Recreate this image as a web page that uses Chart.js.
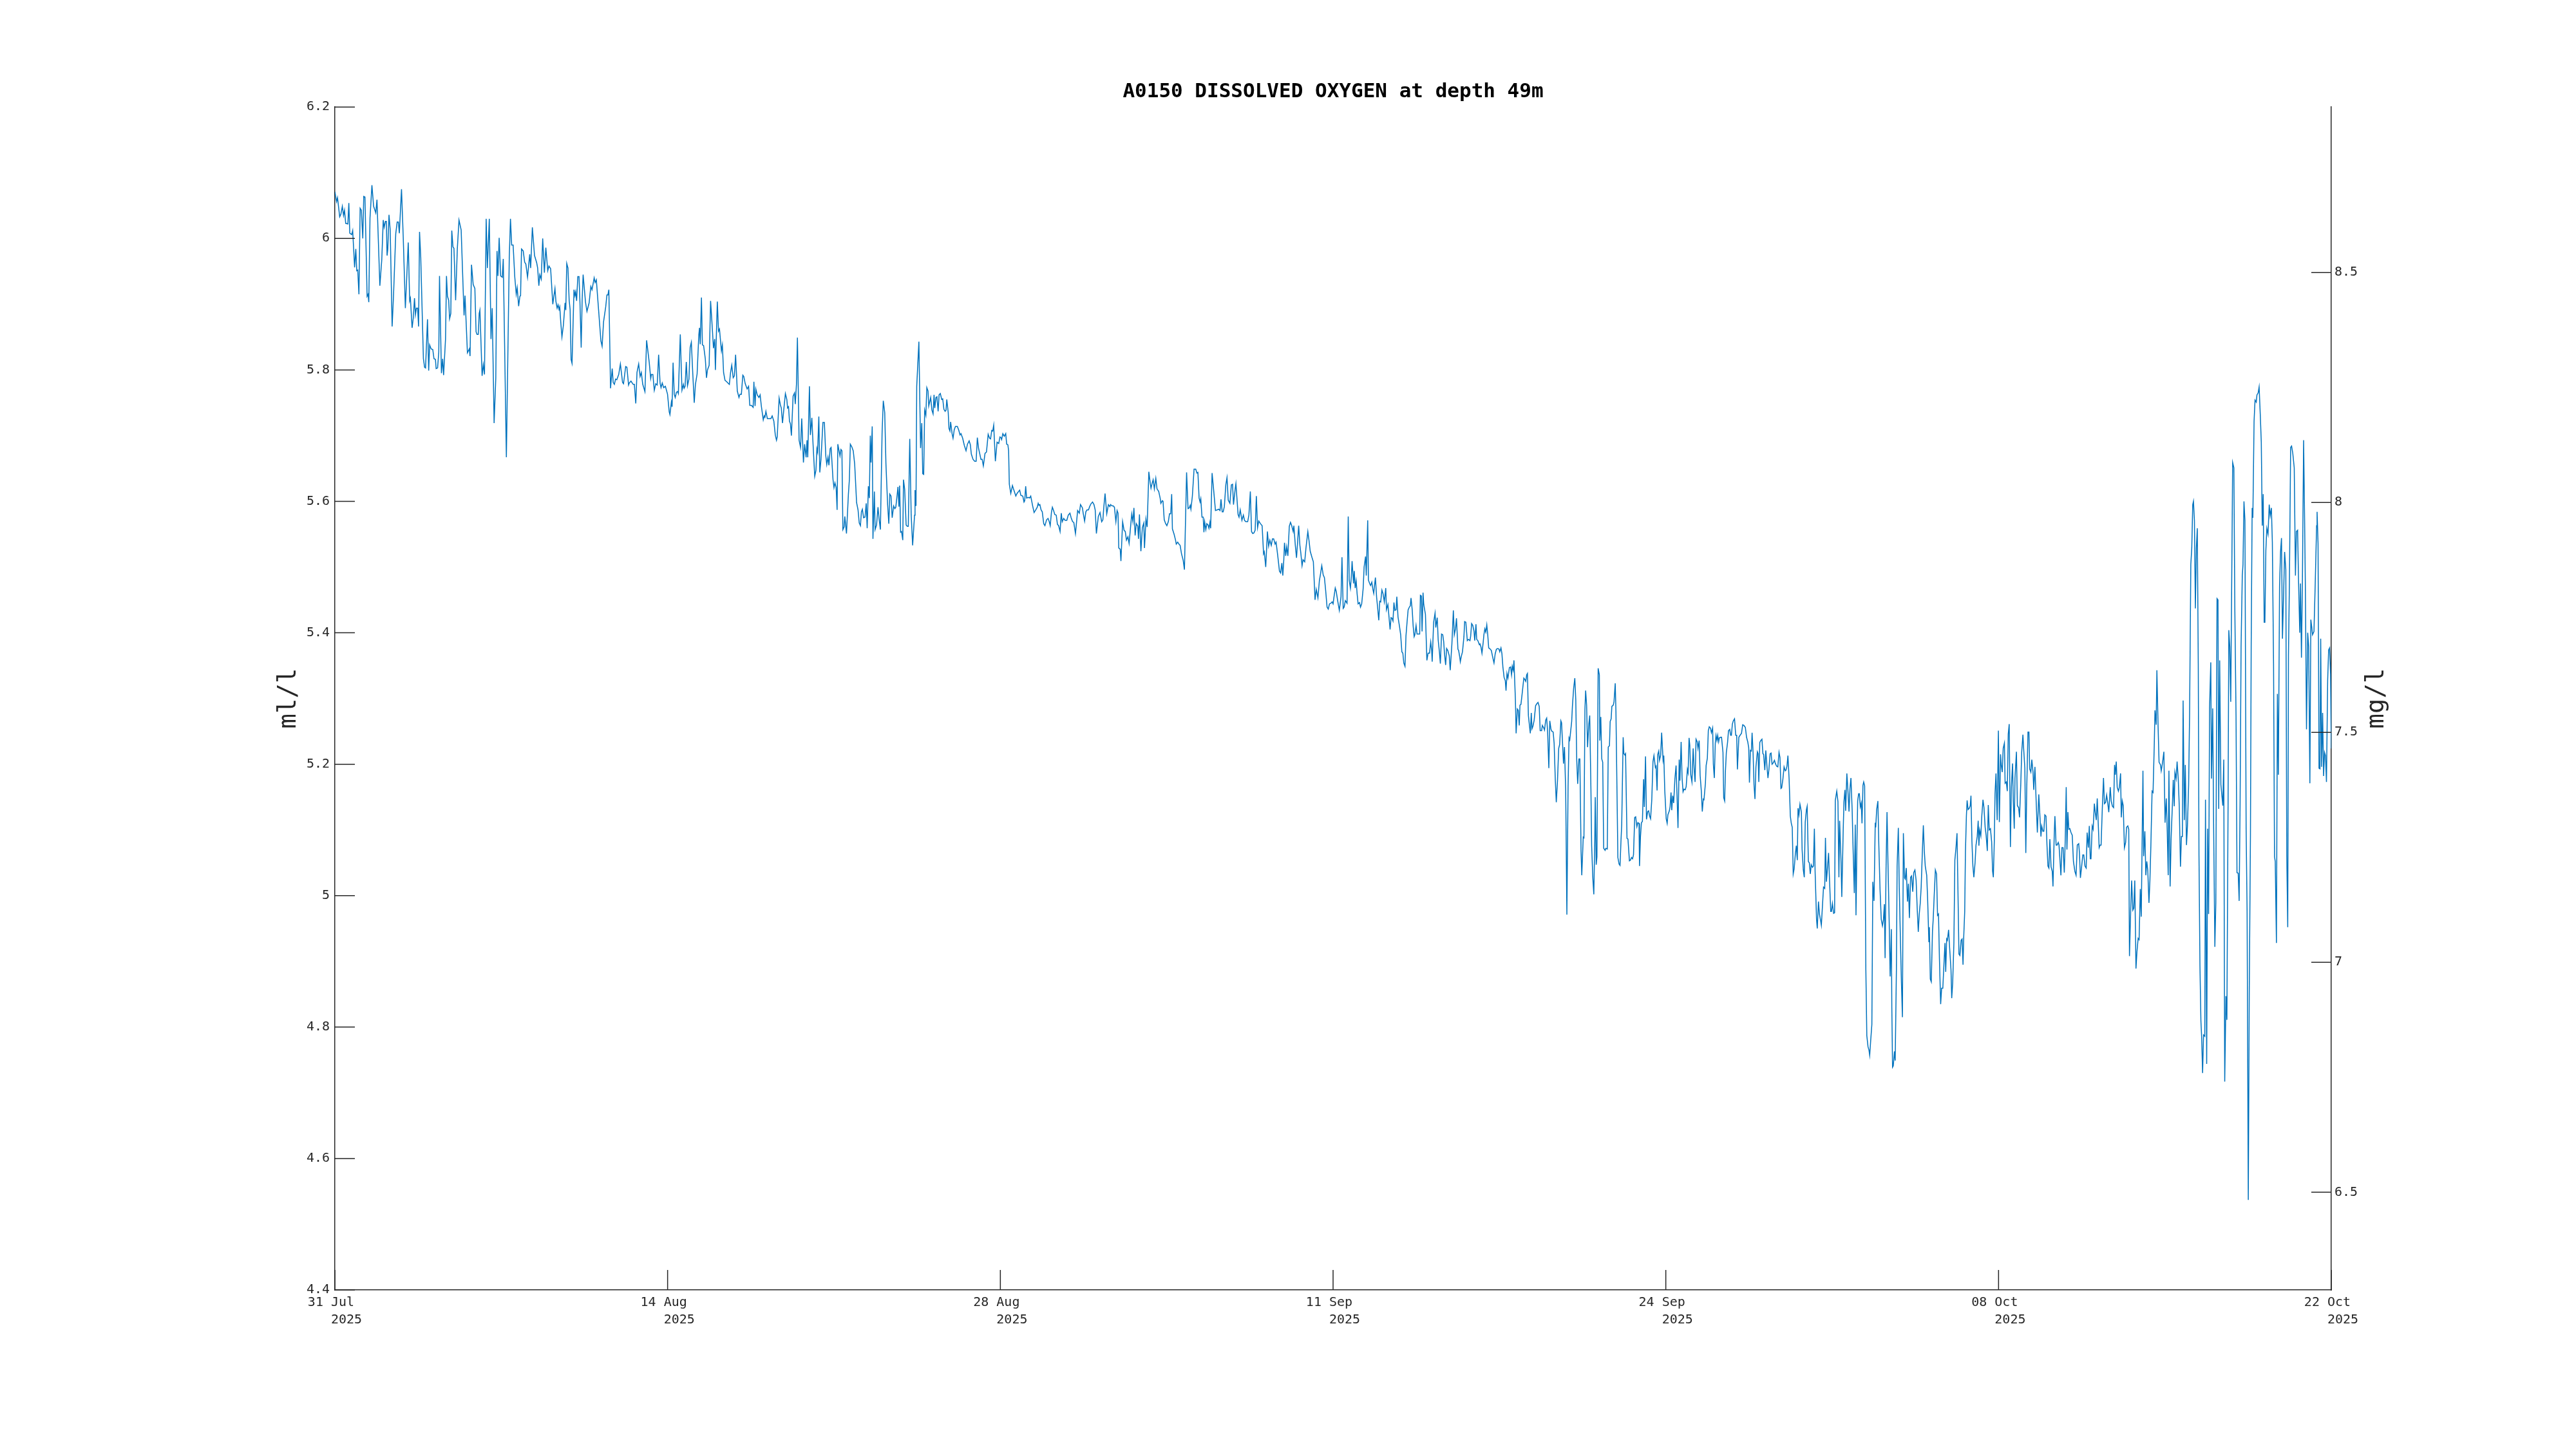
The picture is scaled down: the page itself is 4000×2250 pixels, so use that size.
<!DOCTYPE html>
<html>
<head>
<meta charset="utf-8">
<title>A0150 DISSOLVED OXYGEN at depth 49m</title>
<script src="https://cdn.jsdelivr.net/npm/chart.js@4.4.1/dist/chart.umd.min.js"></script>
<style>
  html, body { margin: 0; padding: 0; background: #fff; }
</style>
</head>
<body>
<canvas id="doChart" width="4000" height="2250"></canvas>
<script>
// days since 31 Jul 2025 00:00
const sampleDays = [
  // 31 Jul - 13 Aug
  0, 0.07, 0.11, 0.20, 0.25, 0.31, 0.36, 0.40, 0.45, 0.54,
  0.58, 0.62, 0.70, 0.74, 0.82, 0.87, 0.91, 0.95, 1.00, 1.05,
  1.10, 1.16, 1.20, 1.25, 1.34, 1.38, 1.41, 1.46, 1.54, 1.61,
  1.70, 1.75, 1.87, 1.95, 2.01, 2.05, 2.10, 2.14, 2.17, 2.20,
  2.25, 2.30, 2.38, 2.44, 2.53, 2.59, 2.64, 2.68, 2.77, 2.84,
  2.93, 3.02, 3.05, 3.11, 3.14, 3.21, 3.26, 3.31, 3.35, 3.39,
  3.44, 3.48, 3.52, 3.57, 3.68, 3.73, 3.77, 3.85, 3.90, 3.94,
  4.00, 4.07, 4.12, 4.18, 4.21, 4.27, 4.32, 4.35, 4.43, 4.48,
  4.52, 4.60, 4.64, 4.68, 4.73, 4.77, 4.82, 4.86, 4.91, 4.95,
  5.02, 5.09, 5.16, 5.25, 5.37, 5.41, 5.51, 5.55, 5.59, 5.62,
  5.68, 5.75, 5.82, 5.87, 5.91, 5.96, 6.00, 6.03, 6.12, 6.17,
  6.22, 6.29, 6.34, 6.42, 6.49, 6.54, 6.62, 6.69, 6.74, 6.78,
  6.83, 6.89, 6.96, 7.00, 7.13, 7.25, 7.30, 7.35, 7.41, 7.48,
  7.54, 7.58, 7.64, 7.69, 7.72, 7.76, 7.83, 7.89, 7.94, 8.01,
  8.08, 8.10, 8.14, 8.21, 8.30, 8.39, 8.43, 8.48, 8.52, 8.58,
  8.64, 8.71, 8.77, 8.85, 8.90, 8.97, 9.06, 9.15, 9.19, 9.24,
  9.28, 9.32, 9.35, 9.39, 9.44, 9.50, 9.57, 9.60, 9.64, 9.69,
  9.74, 9.78, 9.82, 9.86, 9.94, 9.98, 10.01, 10.05, 10.10, 10.15,
  10.19, 10.24, 10.28, 10.32, 10.42, 10.48, 10.57, 10.64, 10.69, 10.78,
  10.82, 10.87, 11.06, 11.11, 11.17, 11.26, 11.31, 11.35, 11.39, 11.46,
  11.53, 11.57, 11.62, 11.67, 11.72, 11.80, 11.87, 11.96, 12.00, 12.09,
  12.14, 12.21, 12.24, 12.31, 12.40, 12.45, 12.51, 12.56, 12.63, 12.69,
  12.74, 12.80, 12.89, 12.96, 13.07, 13.13, 13.16, 13.22, 13.28, 13.34,
  13.40, 13.46, 13.52, 13.56, 13.61, 13.67, 13.74, 13.83, 13.90,
  // 13 Aug - 27 Aug
  13.93, 13.99, 14.02, 14.06, 14.11, 14.15, 14.20, 14.25, 14.28, 14.36,
  14.43, 14.49, 14.52, 14.56, 14.61, 14.66, 14.72, 14.77, 14.82, 14.88,
  14.94, 14.99, 15.06, 15.13, 15.16, 15.19, 15.24, 15.28, 15.33, 15.40,
  15.45, 15.49, 15.56, 15.62, 15.67, 15.74, 15.79, 15.82, 15.90, 15.95,
  15.99, 16.07, 16.11, 16.16, 16.22, 16.29, 16.34, 16.40, 16.45, 16.50,
  16.56, 16.61, 16.66, 16.73, 16.80, 16.84, 16.90, 16.96, 17.00, 17.06,
  17.14, 17.20, 17.25, 17.32, 17.39, 17.42, 17.47, 17.50, 17.56, 17.63,
  17.68, 17.73, 17.81, 17.85, 17.88, 17.92, 17.98, 18.06, 18.13, 18.18,
  18.25, 18.31, 18.36, 18.39, 18.47, 18.52, 18.56, 18.61, 18.67, 18.73,
  18.79, 18.82, 18.86, 18.90, 18.94, 18.98, 19.05, 19.11, 19.14, 19.19,
  19.23, 19.30, 19.36, 19.41, 19.48, 19.53, 19.59, 19.63, 19.66, 19.73,
  19.77, 19.83, 19.88, 19.95, 20.00, 20.04, 20.07, 20.12, 20.16, 20.21,
  20.29, 20.35, 20.41, 20.45, 20.50, 20.54, 20.59, 20.63, 20.71, 20.75,
  20.79, 20.84, 20.88, 20.91, 20.96, 21.00, 21.04, 21.08, 21.12, 21.17,
  21.20, 21.27, 21.35, 21.39, 21.43, 21.49, 21.55, 21.61, 21.69, 21.75,
  21.80, 21.85, 21.89, 21.93, 21.98, 22.04, 22.09, 22.13, 22.18, 22.22,
  22.26, 22.29, 22.34, 22.37, 22.43, 22.46, 22.52, 22.58, 22.62, 22.68,
  22.75, 22.80, 22.86, 22.91, 22.98, 23.03, 23.07, 23.12, 23.17, 23.23,
  23.28, 23.32, 23.38, 23.41, 23.45, 23.48, 23.52, 23.56, 23.61, 23.64,
  23.69, 23.75, 23.80, 23.84, 23.90, 23.96, 24.02, 24.10, 24.12, 24.16,
  24.19, 24.28, 24.35, 24.40, 24.44, 24.48, 24.52, 24.57, 24.61, 24.66,
  24.69, 24.77, 24.82, 24.87, 24.91, 24.94, 24.99, 25.03, 25.08, 25.12,
  25.17, 25.23, 25.27, 25.32, 25.37, 25.41, 25.44, 25.50, 25.53, 25.57,
  25.60, 25.66, 25.70, 25.75, 25.80, 25.88, 25.94, 25.99, 26.03, 26.10,
  26.17, 26.24, 26.30, 26.37, 26.42, 26.46, 26.53, 26.60, 26.66, 26.71,
  26.76, 26.86, 26.91, 26.96, 27.03, 27.09, 27.16, 27.22, 27.26, 27.31,
  27.35, 27.39, 27.46, 27.53, 27.60, 27.65, 27.69,
  // 27 Aug - 10 Sep
  27.72, 27.77, 27.83, 27.89, 27.93, 27.98, 28.01, 28.04, 28.10, 28.17,
  28.22, 28.31, 28.36, 28.47, 28.52, 28.60, 28.65, 28.68, 28.72, 28.76,
  28.83, 28.88, 28.93, 29.01, 29.07, 29.14, 29.20, 29.24, 29.27, 29.31,
  29.36, 29.41, 29.47, 29.52, 29.59, 29.65, 29.70, 29.74, 29.79, 29.83,
  29.88, 29.93, 29.99, 30.04, 30.09, 30.15, 30.20, 30.24, 30.30, 30.36,
  30.43, 30.49, 30.56, 30.61, 30.67, 30.72, 30.79, 30.88, 30.95, 31.00,
  31.08, 31.11, 31.17, 31.22, 31.27, 31.33, 31.38, 31.43, 31.50, 31.56,
  31.61, 31.66, 31.74, 31.81, 31.88, 31.93, 31.97, 32.02, 32.09, 32.16,
  32.22, 32.25, 32.31, 32.36, 32.41, 32.47, 32.52, 32.56, 32.59, 32.65,
  32.68, 32.75, 32.81, 32.86, 32.91, 32.97, 33.02, 33.07, 33.13, 33.18,
  33.22, 33.27, 33.32, 33.38, 33.41, 33.45, 33.51, 33.57, 33.63, 33.66,
  33.72, 33.77, 33.84, 33.90, 33.93, 33.98, 34.02, 34.07, 34.13, 34.18,
  34.25, 34.31, 34.34, 34.40, 34.43, 34.48, 34.54, 34.59, 34.65, 34.70,
  34.75, 34.79, 34.82, 34.89, 34.95, 34.98, 35.04, 35.09, 35.14, 35.20,
  35.27, 35.32, 35.41, 35.47, 35.52, 35.56, 35.59, 35.65, 35.72, 35.79,
  35.84, 35.88, 35.93, 35.97, 36.00, 36.05, 36.10, 36.13, 36.16, 36.21,
  36.25, 36.30, 36.34, 36.38, 36.41, 36.47, 36.54, 36.61, 36.68, 36.75,
  36.80, 36.84, 36.89, 36.93, 36.98, 37.04, 37.09, 37.14, 37.21, 37.27,
  37.32, 37.36, 37.43, 37.46, 37.55, 37.59, 37.64, 37.71, 37.77, 37.82,
  37.87, 37.95, 38.00, 38.06, 38.11, 38.16, 38.21, 38.26, 38.31, 38.36,
  38.41, 38.48, 38.55, 38.61, 38.64, 38.70, 38.77, 38.82, 38.87, 38.93,
  38.98, 39.03, 39.09, 39.13, 39.20, 39.27, 39.32, 39.37, 39.41, 39.45,
  39.48, 39.53, 39.57, 39.62, 39.68, 39.73, 39.78, 39.84, 39.87, 39.93,
  39.98, 40.03, 40.07, 40.12, 40.16, 40.21, 40.25, 40.32, 40.37, 40.45,
  40.50, 40.55, 40.62, 40.68, 40.75, 40.80, 40.87, 40.93, 40.98, 41.03,
  41.09, 41.14, 41.19, 41.25, 41.30, 41.35, 41.41, 41.46, 41.50,
  // 10 Sep - 24 Sep
  41.54, 41.59, 41.63, 41.69, 41.76, 41.83, 41.87, 41.92, 41.96, 42.01,
  42.08, 42.13, 42.17, 42.22, 42.26, 42.29, 42.35, 42.38, 42.42, 42.46,
  42.50, 42.54, 42.60, 42.64, 42.69, 42.75, 42.79, 42.85, 42.88, 42.94,
  42.97, 43.03, 43.06, 43.11, 43.15, 43.19, 43.22, 43.26, 43.31, 43.35,
  43.40, 43.44, 43.48, 43.53, 43.58, 43.63, 43.69, 43.72, 43.78, 43.83,
  43.87, 43.91, 43.95, 43.99, 44.03, 44.07, 44.12, 44.15, 44.20, 44.26,
  44.31, 44.36, 44.40, 44.44, 44.49, 44.53, 44.58, 44.62, 44.67, 44.71,
  44.74, 44.79, 44.83, 44.87, 44.90, 44.95, 44.99, 45.04, 45.10, 45.13,
  45.17, 45.20, 45.24, 45.27, 45.34, 45.40, 45.45, 45.51, 45.56, 45.60,
  45.62, 45.68, 45.74, 45.77, 45.83, 45.87, 45.92, 45.96, 46.01, 46.06,
  46.10, 46.13, 46.18, 46.22, 46.27, 46.33, 46.37, 46.44, 46.50, 46.54,
  46.59, 46.63, 46.69, 46.72, 46.77, 46.79, 46.83, 46.88, 46.94, 46.97,
  47.02, 47.08, 47.13, 47.19, 47.22, 47.26, 47.31, 47.36, 47.39, 47.44,
  47.47, 47.52, 47.58, 47.61, 47.65, 47.69, 47.74, 47.77, 47.81, 47.85,
  47.89, 47.93, 47.97, 48.01, 48.08, 48.13, 48.19, 48.24, 48.29, 48.35,
  48.40, 48.43, 48.48, 48.52, 48.56, 48.61, 48.66, 48.69, 48.73, 48.77,
  48.83, 48.88, 48.92, 48.95, 48.99, 49.02, 49.08, 49.11, 49.16, 49.20,
  49.24, 49.27, 49.31, 49.36, 49.43, 49.47, 49.51, 49.55, 49.58, 49.62,
  49.67, 49.70, 49.74, 49.77, 49.81, 49.86, 49.92, 49.97, 50.02, 50.07,
  50.11, 50.17, 50.20, 50.26, 50.29, 50.34, 50.38, 50.42, 50.47, 50.51,
  50.56, 50.60, 50.65, 50.69, 50.74, 50.78, 50.83, 50.88, 50.92, 50.97,
  51.00, 51.08, 51.12, 51.17, 51.22, 51.27, 51.31, 51.34, 51.42, 51.45,
  51.50, 51.55, 51.59, 51.63, 51.67, 51.72, 51.76, 51.81, 51.84, 51.90,
  51.93, 51.97, 52.00, 52.04, 52.08, 52.13, 52.17, 52.22, 52.25, 52.30,
  52.34, 52.38, 52.40, 52.44, 52.47, 52.52, 52.57, 52.59, 52.63, 52.67,
  52.71, 52.75, 52.81, 52.84, 52.90, 52.94, 52.99, 53.02, 53.06, 53.09,
  53.15, 53.18, 53.23, 53.26, 53.34, 53.39, 53.43, 53.47, 53.50, 53.56,
  53.59, 53.63, 53.66, 53.72, 53.76, 53.82, 53.86, 53.91, 53.95, 53.99,
  54.04, 54.08, 54.13, 54.17, 54.22, 54.24, 54.28, 54.32, 54.36, 54.41,
  54.44, 54.49, 54.53, 54.58, 54.62, 54.66, 54.70, 54.75, 54.80, 54.84,
  54.90, 54.93, 54.97, 55.00, 55.04, 55.07, 55.12, 55.16, 55.22, 55.25,
  55.29,
  // 24 Sep - 8 Oct
  55.35, 55.39, 55.42, 55.48, 55.51, 55.55, 55.58, 55.62, 55.66, 55.71,
  55.76, 55.80, 55.84, 55.89, 55.92, 55.97, 56.01, 56.05, 56.09, 56.14,
  56.18, 56.23, 56.26, 56.30, 56.33, 56.37, 56.42, 56.47, 56.51, 56.55,
  56.59, 56.64, 56.67, 56.72, 56.76, 56.81, 56.85, 56.89, 56.92, 56.98,
  57.01, 57.06, 57.10, 57.14, 57.19, 57.23, 57.28, 57.31, 57.35, 57.39,
  57.42, 57.46, 57.49, 57.53, 57.56, 57.61, 57.65, 57.71, 57.74, 57.78,
  57.81, 57.85, 57.90, 57.94, 57.99, 58.03, 58.06, 58.10, 58.14, 58.19,
  58.24, 58.28, 58.31, 58.37, 58.42, 58.48, 58.53, 58.58, 58.64, 58.69,
  58.74, 58.78, 58.81, 58.85, 58.89, 58.92, 58.96, 59.00, 59.04, 59.08,
  59.14, 59.17, 59.20, 59.24, 59.28, 59.33, 59.37, 59.40, 59.45, 59.49,
  59.54, 59.58, 59.62, 59.67, 59.71, 59.75, 59.80, 59.85, 59.89, 59.94,
  59.99, 60.04, 60.08, 60.12, 60.15, 60.20, 60.25, 60.30, 60.33, 60.37,
  60.41, 60.46, 60.51, 60.55, 60.59, 60.63, 60.67, 60.72, 60.76, 60.80,
  60.83, 60.87, 60.91, 60.97, 61.00, 61.05, 61.09, 61.13, 61.18, 61.21,
  61.26, 61.30, 61.34, 61.38, 61.43, 61.47, 61.51, 61.54, 61.60, 61.63,
  61.68, 61.72, 61.77, 61.80, 61.85, 61.89, 61.94, 61.97, 62.01, 62.04,
  62.10, 62.13, 62.19, 62.22, 62.26, 62.31, 62.35, 62.38, 62.44, 62.49,
  62.53, 62.56, 62.62, 62.65, 62.71, 62.74, 62.78, 62.81, 62.86, 62.90,
  62.95, 62.99, 63.03, 63.08, 63.12, 63.17, 63.21, 63.24, 63.28, 63.31,
  63.35, 63.38, 63.42, 63.46, 63.49, 63.53, 63.56, 63.60, 63.65, 63.69,
  63.74, 63.78, 63.81, 63.85, 63.90, 63.94, 63.99, 64.04, 64.06, 64.10,
  64.15, 64.19, 64.24, 64.29, 64.34, 64.38, 64.42, 64.45, 64.49, 64.53,
  64.57, 64.62, 64.66, 64.71, 64.73, 64.76, 64.79, 64.84, 64.87, 64.92,
  64.95, 65.00, 65.04, 65.09, 65.13, 65.17, 65.21, 65.26, 65.29, 65.33,
  65.38, 65.42, 65.46, 65.51, 65.55, 65.60, 65.64, 65.69, 65.74, 65.79,
  65.83, 65.87, 65.91, 65.95, 66.00, 66.04, 66.08, 66.12, 66.18, 66.22,
  66.27, 66.29, 66.33, 66.37, 66.42, 66.45, 66.49, 66.54, 66.59, 66.63,
  66.67, 66.71, 66.76, 66.80, 66.85, 66.89, 66.94, 66.97, 67.01, 67.04,
  67.09, 67.13, 67.19, 67.22, 67.26, 67.31, 67.35, 67.40, 67.44, 67.47,
  67.52, 67.56, 67.61, 67.65, 67.69, 67.72, 67.76, 67.79, 67.83, 67.86,
  67.90, 67.95, 67.99, 68.02, 68.06, 68.10, 68.14, 68.19, 68.23, 68.28,
  68.32, 68.35, 68.38, 68.43, 68.47, 68.52, 68.56, 68.61, 68.65, 68.70,
  68.74, 68.78, 68.83, 68.88, 68.92, 68.95, 68.99, 69.02, 69.06,
  // 8 Oct - 22 Oct
  69.11, 69.16, 69.20, 69.25, 69.28, 69.32, 69.36, 69.41, 69.44, 69.49,
  69.53, 69.57, 69.61, 69.66, 69.70, 69.75, 69.78, 69.82, 69.85, 69.91,
  69.95, 70.00, 70.04, 70.09, 70.13, 70.18, 70.21, 70.26, 70.30, 70.34,
  70.39, 70.43, 70.46, 70.51, 70.55, 70.60, 70.63, 70.68, 70.73, 70.78,
  70.84, 70.89, 70.93, 70.96, 71.01, 71.05, 71.09, 71.14, 71.18, 71.22,
  71.26, 71.30, 71.35, 71.40, 71.43, 71.48, 71.51, 71.56, 71.60, 71.65,
  71.68, 71.73, 71.76, 71.80, 71.85, 71.90, 71.94, 71.98, 72.01, 72.05,
  72.09, 72.13, 72.18, 72.23, 72.28, 72.34, 72.39, 72.44, 72.50, 72.53,
  72.57, 72.62, 72.67, 72.71, 72.76, 72.81, 72.85, 72.90, 72.94, 72.98,
  73.01, 73.06, 73.10, 73.15, 73.19, 73.23, 73.27, 73.32, 73.35, 73.39,
  73.43, 73.48, 73.53, 73.57, 73.62, 73.66, 73.71, 73.75,
  73.81, 73.85, 73.90, 73.95, 73.99, 74.02, 74.06, 74.10, 74.15, 74.19,
  74.24, 74.27, 74.31, 74.35, 74.40, 74.45, 74.49, 74.54, 74.58, 74.61,
  74.66, 74.70, 74.75, 74.79, 74.83, 74.88, 74.92, 74.97, 75.01, 75.06,
  75.10, 75.17, 75.20, 75.25, 75.29, 75.33, 75.37, 75.42, 75.46, 75.50,
  75.55, 75.59, 75.64, 75.67, 75.72, 75.75, 75.80, 75.84, 75.90, 75.93,
  75.97, 76.00, 76.04, 76.09, 76.14, 76.18, 76.22, 76.25, 76.30, 76.34,
  76.40, 76.43, 76.47, 76.50, 76.55, 76.59, 76.64, 76.68, 76.73, 76.77,
  76.81, 76.84, 76.89, 76.93, 76.98, 77.02, 77.07, 77.11, 77.16, 77.20,
  77.24, 77.27, 77.31, 77.35, 77.39, 77.43, 77.47, 77.50, 77.54, 77.58,
  77.61, 77.65, 77.69, 77.74, 77.77, 77.82, 77.86, 77.90, 77.94, 77.99,
  78.02, 78.07, 78.11, 78.16, 78.20, 78.25, 78.29, 78.32, 78.36, 78.41,
  78.45,
  78.49, 78.53, 78.57, 78.62, 78.66, 78.71, 78.74, 78.78, 78.82, 78.87,
  78.90, 78.95, 78.99, 79.04, 79.08, 79.13, 79.17, 79.21, 79.25, 79.30,
  79.33, 79.37, 79.41, 79.46, 79.50, 79.55, 79.59, 79.64, 79.67, 79.71,
  79.74, 79.79, 79.83, 79.88, 79.91, 79.96, 80.00, 80.05, 80.09, 80.13,
  80.17, 80.21, 80.24, 80.28, 80.32, 80.37, 80.42, 80.46, 80.51, 80.55,
  80.60, 80.64, 80.67, 80.72, 80.76, 80.80, 80.85, 80.89, 80.93, 80.97,
  81.02, 81.06, 81.11, 81.15, 81.19, 81.22, 81.26, 81.31, 81.35, 81.40,
  81.46, 81.51, 81.55, 81.60, 81.64, 81.69, 81.72, 81.76, 81.80, 81.85,
  81.89, 81.92, 81.97, 82.02, 82.06, 82.11, 82.15, 82.19, 82.22, 82.28,
  82.33, 82.39, 82.41, 82.45, 82.49, 82.53, 82.56, 82.60, 82.64, 82.68,
  82.72, 82.76, 82.80, 82.85, 82.89, 82.93, 82.97, 83.00
];

// dissolved oxygen, ml/l
const oxygenMlL = [
  // 31 Jul - 13 Aug
  6.071, 6.056, 6.062, 6.033, 6.037, 6.049, 6.035, 6.043, 6.023, 6.022,
  6.054, 6.008, 6.006, 6.012, 5.956, 5.984, 5.951, 5.952, 5.915, 6.046,
  6.043, 6.000, 6.064, 6.063, 5.912, 5.915, 5.903, 6.031, 6.081, 6.049,
  6.039, 6.059, 5.928, 5.968, 6.028, 6.017, 6.026, 6.026, 5.974, 5.984,
  6.036, 6.013, 5.866, 5.915, 6.007, 6.025, 6.025, 6.008, 6.075, 6.004,
  5.894, 5.968, 5.994, 5.905, 5.909, 5.864, 5.879, 5.909, 5.884, 5.894,
  5.894, 5.866, 6.010, 5.971, 5.817, 5.804, 5.803, 5.877, 5.799, 5.838,
  5.832, 5.831, 5.817, 5.816, 5.802, 5.803, 5.827, 5.943, 5.795, 5.817,
  5.792, 5.847, 5.943, 5.912, 5.906, 5.878, 5.886, 6.012, 5.987, 5.985,
  5.906, 5.984, 6.028, 6.013, 5.883, 5.913, 5.826, 5.829, 5.832, 5.821,
  5.960, 5.930, 5.924, 5.858, 5.854, 5.854, 5.886, 5.891, 5.791, 5.808,
  5.793, 6.030, 5.955, 6.030, 5.847, 5.894, 5.719, 5.788, 5.981, 5.943,
  6.001, 5.943, 5.941, 5.969, 5.667, 5.971, 6.030, 5.990, 5.990, 5.941,
  5.915, 5.925, 5.897, 5.912, 5.913, 5.984, 5.981, 5.964, 5.961, 5.941,
  5.968, 5.976, 5.955, 6.017, 5.974, 5.963, 5.955, 5.928, 5.945, 5.938,
  6.000, 5.948, 5.986, 5.951, 5.958, 5.954, 5.900, 5.924, 5.904, 5.894,
  5.899, 5.892, 5.896, 5.873, 5.850, 5.868, 5.902, 5.891, 5.962, 5.955,
  5.906, 5.892, 5.816, 5.810, 5.922, 5.913, 5.919, 5.905, 5.942, 5.942,
  5.902, 5.834, 5.906, 5.945, 5.903, 5.889, 5.902, 5.927, 5.922, 5.940,
  5.933, 5.937, 5.844, 5.836, 5.873, 5.896, 5.914, 5.914, 5.922, 5.772,
  5.802, 5.781, 5.778, 5.786, 5.785, 5.793, 5.809, 5.781, 5.779, 5.805,
  5.804, 5.777, 5.780, 5.783, 5.778, 5.778, 5.749, 5.796, 5.809, 5.790,
  5.796, 5.778, 5.767, 5.845, 5.811, 5.787, 5.793, 5.793, 5.769, 5.779,
  5.777, 5.823, 5.780, 5.773, 5.780, 5.773, 5.775, 5.763, 5.736,
  // 13 Aug - 27 Aug
  5.732, 5.751, 5.744, 5.811, 5.763, 5.758, 5.766, 5.767, 5.764, 5.854,
  5.769, 5.778, 5.772, 5.775, 5.812, 5.776, 5.786, 5.834, 5.842, 5.794,
  5.750, 5.778, 5.794, 5.853, 5.864, 5.839, 5.910, 5.838, 5.837, 5.817,
  5.788, 5.800, 5.807, 5.905, 5.876, 5.833, 5.847, 5.800, 5.904, 5.859,
  5.862, 5.829, 5.838, 5.796, 5.784, 5.782, 5.780, 5.778, 5.796, 5.807,
  5.788, 5.791, 5.823, 5.768, 5.758, 5.763, 5.763, 5.792, 5.790, 5.779,
  5.771, 5.775, 5.746, 5.746, 5.743, 5.782, 5.745, 5.771, 5.762, 5.758,
  5.762, 5.745, 5.724, 5.730, 5.728, 5.737, 5.726, 5.726, 5.726, 5.730,
  5.722, 5.701, 5.693, 5.698, 5.757, 5.747, 5.742, 5.719, 5.742, 5.764,
  5.755, 5.742, 5.744, 5.722, 5.718, 5.700, 5.760, 5.765, 5.748, 5.778,
  5.849, 5.693, 5.682, 5.726, 5.659, 5.687, 5.667, 5.693, 5.667, 5.775,
  5.701, 5.727, 5.687, 5.638, 5.647, 5.680, 5.675, 5.729, 5.644, 5.664,
  5.720, 5.720, 5.669, 5.656, 5.667, 5.655, 5.680, 5.682, 5.633, 5.621,
  5.628, 5.621, 5.587, 5.687, 5.677, 5.669, 5.679, 5.677, 5.557, 5.561,
  5.577, 5.551, 5.611, 5.633, 5.687, 5.683, 5.677, 5.657, 5.598, 5.587,
  5.567, 5.563, 5.584, 5.588, 5.575, 5.576, 5.597, 5.559, 5.623, 5.605,
  5.700, 5.659, 5.714, 5.543, 5.615, 5.557, 5.564, 5.591, 5.575, 5.557,
  5.704, 5.753, 5.735, 5.657, 5.595, 5.566, 5.611, 5.608, 5.575, 5.593,
  5.589, 5.591, 5.611, 5.622, 5.592, 5.624, 5.553, 5.554, 5.541, 5.633,
  5.618, 5.564, 5.562, 5.562, 5.695, 5.579, 5.533, 5.579, 5.617, 5.593,
  5.775, 5.843, 5.681, 5.719, 5.642, 5.641, 5.739, 5.731, 5.773, 5.768,
  5.745, 5.758, 5.739, 5.733, 5.762, 5.742, 5.758, 5.759, 5.737, 5.762,
  5.764, 5.755, 5.756, 5.740, 5.737, 5.739, 5.755, 5.735, 5.711, 5.707,
  5.721, 5.703, 5.696, 5.709, 5.714, 5.714, 5.708, 5.701, 5.703, 5.696,
  5.685, 5.677, 5.687, 5.692, 5.686, 5.672, 5.664, 5.661, 5.661, 5.697,
  5.681, 5.664, 5.664, 5.654, 5.673, 5.675, 5.702, 5.696, 5.695, 5.708,
  5.707, 5.716, 5.661, 5.690, 5.688, 5.698, 5.697,
  // 27 Aug - 10 Sep
  5.694, 5.703, 5.699, 5.703, 5.687, 5.686, 5.677, 5.626, 5.612, 5.624,
  5.618, 5.608, 5.612, 5.617, 5.609, 5.608, 5.599, 5.601, 5.623, 5.605,
  5.606, 5.605, 5.608, 5.593, 5.583, 5.587, 5.591, 5.597, 5.594, 5.595,
  5.587, 5.584, 5.566, 5.563, 5.572, 5.574, 5.569, 5.563, 5.583, 5.591,
  5.586, 5.580, 5.579, 5.565, 5.563, 5.554, 5.582, 5.569, 5.574, 5.571,
  5.571, 5.579, 5.582, 5.575, 5.569, 5.568, 5.551, 5.586, 5.582, 5.595,
  5.590, 5.582, 5.570, 5.584, 5.587, 5.587, 5.592, 5.596, 5.599, 5.595,
  5.587, 5.551, 5.577, 5.583, 5.569, 5.572, 5.592, 5.612, 5.581, 5.595,
  5.592, 5.595, 5.593, 5.593, 5.591, 5.569, 5.586, 5.582, 5.529, 5.527,
  5.509, 5.569, 5.556, 5.554, 5.541, 5.546, 5.536, 5.557, 5.581, 5.569,
  5.590, 5.548, 5.566, 5.562, 5.543, 5.580, 5.524, 5.560, 5.567, 5.529,
  5.573, 5.561, 5.645, 5.627, 5.620, 5.628, 5.633, 5.619, 5.635, 5.619,
  5.615, 5.605, 5.597, 5.601, 5.600, 5.572, 5.566, 5.563, 5.569, 5.581,
  5.581, 5.611, 5.558, 5.550, 5.541, 5.535, 5.538, 5.535, 5.533, 5.520,
  5.510, 5.496, 5.644, 5.589, 5.590, 5.594, 5.588, 5.608, 5.649, 5.649,
  5.643, 5.644, 5.605, 5.599, 5.604, 5.576, 5.576, 5.553, 5.569, 5.557,
  5.566, 5.564, 5.559, 5.568, 5.559, 5.643, 5.615, 5.586, 5.587, 5.588,
  5.586, 5.603, 5.584, 5.584, 5.592, 5.625, 5.636, 5.602, 5.597, 5.625,
  5.626, 5.595, 5.619, 5.627, 5.580, 5.576, 5.587, 5.571, 5.579, 5.571,
  5.569, 5.569, 5.579, 5.615, 5.554, 5.551, 5.552, 5.556, 5.608, 5.560,
  5.570, 5.566, 5.563, 5.520, 5.523, 5.500, 5.554, 5.532, 5.541, 5.533,
  5.543, 5.543, 5.535, 5.538, 5.517, 5.494, 5.491, 5.506, 5.487, 5.510,
  5.537, 5.517, 5.531, 5.517, 5.562, 5.568, 5.563, 5.554, 5.563, 5.533,
  5.514, 5.541, 5.563, 5.533, 5.521, 5.502, 5.511, 5.508, 5.528, 5.554,
  5.540, 5.524, 5.515, 5.508, 5.450, 5.466, 5.453, 5.479, 5.490, 5.502,
  5.488, 5.484, 5.465, 5.439, 5.436, 5.444, 5.445, 5.447, 5.444,
  // 10 Sep - 24 Sep
  5.455, 5.468, 5.463, 5.449, 5.434, 5.455, 5.515, 5.437, 5.439, 5.449,
  5.445, 5.577, 5.480, 5.468, 5.486, 5.509, 5.475, 5.494, 5.468, 5.479,
  5.459, 5.444, 5.446, 5.439, 5.444, 5.467, 5.500, 5.516, 5.487, 5.571,
  5.480, 5.474, 5.472, 5.477, 5.467, 5.460, 5.471, 5.484, 5.454, 5.439,
  5.419, 5.448, 5.447, 5.465, 5.459, 5.447, 5.468, 5.435, 5.443, 5.422,
  5.405, 5.423, 5.422, 5.418, 5.446, 5.434, 5.435, 5.455, 5.424, 5.410,
  5.397, 5.371, 5.369, 5.354, 5.349, 5.395, 5.418, 5.435, 5.439, 5.441,
  5.453, 5.435, 5.410, 5.394, 5.397, 5.411, 5.398, 5.398, 5.398, 5.457,
  5.456, 5.402, 5.461, 5.443, 5.428, 5.358, 5.369, 5.369, 5.386, 5.373,
  5.356, 5.416, 5.430, 5.408, 5.423, 5.389, 5.371, 5.353, 5.398, 5.397,
  5.386, 5.369, 5.351, 5.376, 5.373, 5.365, 5.343, 5.383, 5.434, 5.397,
  5.406, 5.422, 5.375, 5.373, 5.362, 5.356, 5.364, 5.371, 5.394, 5.417,
  5.416, 5.388, 5.390, 5.388, 5.395, 5.414, 5.411, 5.402, 5.388, 5.413,
  5.390, 5.388, 5.382, 5.383, 5.378, 5.369, 5.385, 5.397, 5.406, 5.401,
  5.412, 5.397, 5.377, 5.376, 5.373, 5.364, 5.354, 5.368, 5.375, 5.376,
  5.375, 5.371, 5.377, 5.368, 5.348, 5.332, 5.327, 5.312, 5.338, 5.331,
  5.347, 5.348, 5.336, 5.349, 5.343, 5.358, 5.298, 5.247, 5.284, 5.282,
  5.259, 5.290, 5.291, 5.307, 5.331, 5.329, 5.326, 5.336, 5.338, 5.274,
  5.257, 5.247, 5.278, 5.254, 5.258, 5.267, 5.289, 5.292, 5.294, 5.288,
  5.251, 5.251, 5.259, 5.255, 5.252, 5.267, 5.270, 5.249, 5.194, 5.266,
  5.253, 5.250, 5.249, 5.232, 5.175, 5.142, 5.175, 5.224, 5.230, 5.266,
  5.263, 5.201, 5.226, 5.162, 4.971, 5.166, 5.240, 5.237, 5.265, 5.288,
  5.315, 5.331, 5.298, 5.206, 5.170, 5.208, 5.208, 5.067, 5.031, 5.089,
  5.088, 5.282, 5.312, 5.290, 5.226, 5.260, 5.274, 5.162, 5.076, 5.026,
  5.002, 5.083, 5.150, 5.047, 5.059, 5.346, 5.336, 5.236, 5.272, 5.208,
  5.203, 5.072, 5.069, 5.072, 5.071, 5.226, 5.228, 5.265, 5.269, 5.288,
  5.290, 5.295, 5.323, 5.280, 5.058, 5.048, 5.046, 5.084, 5.108, 5.241,
  5.216, 5.214, 5.216, 5.087, 5.086, 5.053, 5.054, 5.058, 5.056, 5.062,
  5.119, 5.120, 5.105, 5.111, 5.110, 5.045, 5.090, 5.111, 5.113, 5.177,
  5.135, 5.212, 5.116, 5.128, 5.129, 5.121, 5.117, 5.146, 5.204, 5.213,
  5.195, 5.197, 5.160, 5.215, 5.220, 5.206, 5.214, 5.248, 5.206, 5.213,
  5.160,
  // 24 Sep - 8 Oct
  5.117, 5.110, 5.123, 5.129, 5.135, 5.157, 5.130, 5.152, 5.141, 5.177,
  5.198, 5.152, 5.103, 5.207, 5.175, 5.234, 5.179, 5.158, 5.162, 5.161,
  5.166, 5.192, 5.187, 5.240, 5.229, 5.184, 5.173, 5.224, 5.194, 5.173,
  5.238, 5.234, 5.224, 5.236, 5.183, 5.159, 5.128, 5.147, 5.146, 5.171,
  5.198, 5.209, 5.251, 5.257, 5.255, 5.248, 5.255, 5.200, 5.179, 5.232,
  5.244, 5.236, 5.244, 5.234, 5.240, 5.241, 5.241, 5.218, 5.149, 5.144,
  5.188, 5.218, 5.233, 5.251, 5.253, 5.244, 5.244, 5.261, 5.266, 5.269,
  5.244, 5.244, 5.192, 5.241, 5.244, 5.247, 5.260, 5.259, 5.256, 5.241,
  5.234, 5.225, 5.172, 5.221, 5.220, 5.248, 5.219, 5.169, 5.147, 5.196,
  5.219, 5.216, 5.173, 5.233, 5.236, 5.238, 5.216, 5.215, 5.191, 5.221,
  5.196, 5.179, 5.192, 5.216, 5.217, 5.200, 5.202, 5.206, 5.201, 5.197,
  5.196, 5.218, 5.210, 5.163, 5.164, 5.177, 5.196, 5.190, 5.191, 5.197,
  5.213, 5.177, 5.121, 5.110, 5.104, 5.033, 5.041, 5.064, 5.076, 5.054,
  5.133, 5.123, 5.139, 5.127, 5.070, 5.039, 5.028, 5.112, 5.131, 5.136,
  5.052, 5.050, 5.033, 5.047, 5.043, 5.045, 5.102, 5.037, 4.964, 4.950,
  4.991, 4.972, 4.962, 4.955, 4.987, 5.013, 5.011, 5.088, 5.021, 5.035,
  5.065, 5.033, 4.976, 4.976, 4.988, 4.973, 4.974, 5.145, 5.159, 5.143,
  5.028, 5.114, 5.050, 4.998, 5.102, 5.143, 5.161, 5.129, 5.186, 5.163,
  5.128, 5.163, 5.179, 5.131, 5.070, 5.004, 5.108, 4.970, 5.081, 5.144,
  5.155, 5.155, 5.135, 5.141, 5.110, 5.168, 5.173, 5.167, 4.887, 4.787,
  4.770, 4.765, 4.757, 4.779, 4.804, 5.021, 4.992, 5.111, 5.104, 5.131,
  5.144, 5.076, 5.009, 4.964, 4.954, 4.963, 4.987, 4.905, 5.041, 5.127,
  5.050, 4.960, 4.877, 4.949, 4.829, 4.739, 4.741, 4.763, 4.749, 4.887,
  5.045, 5.103, 5.011, 4.928, 4.867, 4.815, 5.095, 5.027, 5.025, 5.042,
  4.991, 5.018, 4.966, 5.028, 5.030, 5.006, 5.035, 5.039, 5.023, 4.976,
  4.945, 4.972, 4.988, 5.013, 5.068, 5.107, 5.068, 5.045, 5.031, 4.993,
  4.930, 4.952, 4.873, 4.869, 4.946, 4.964, 4.999, 5.039, 5.033, 4.970,
  4.972, 4.903, 4.835, 4.859, 4.859, 4.891, 4.928, 4.884, 4.934, 4.932,
  4.948, 4.922, 4.887, 4.844, 4.867, 4.928, 5.054, 5.074, 5.095, 5.029,
  4.911, 4.909, 4.932, 4.934, 4.895, 4.938, 4.976, 5.066, 5.121, 5.145,
  5.131, 5.133, 5.137, 5.152, 5.082, 5.045, 5.028, 5.050, 5.077, 5.090,
  5.114, 5.076, 5.100, 5.091, 5.121, 5.146, 5.134, 5.104, 5.092, 5.068,
  5.138, 5.100, 5.102, 5.082, 5.037, 5.028, 5.082, 5.155, 5.186,
  // 8 Oct - 22 Oct
  5.115, 5.251, 5.112, 5.215, 5.199, 5.188, 5.224, 5.232, 5.171, 5.173,
  5.159, 5.246, 5.261, 5.074, 5.165, 5.201, 5.144, 5.102, 5.178, 5.219,
  5.137, 5.134, 5.119, 5.169, 5.219, 5.245, 5.224, 5.194, 5.065, 5.165,
  5.249, 5.249, 5.193, 5.188, 5.207, 5.188, 5.161, 5.196, 5.144, 5.096,
  5.154, 5.119, 5.090, 5.106, 5.098, 5.098, 5.123, 5.121, 5.077, 5.045,
  5.042, 5.086, 5.044, 5.037, 5.014, 5.090, 5.121, 5.077, 5.077, 5.081,
  5.077, 5.048, 5.031, 5.073, 5.073, 5.035, 5.086, 5.165, 5.070, 5.127,
  5.101, 5.102, 5.096, 5.092, 5.052, 5.037, 5.031, 5.077, 5.079, 5.065,
  5.027, 5.044, 5.062, 5.062, 5.045, 5.042, 5.096, 5.073, 5.106, 5.056,
  5.056, 5.106, 5.101, 5.140, 5.126, 5.115, 5.148, 5.102, 5.073, 5.077,
  5.077, 5.132, 5.179, 5.140, 5.142, 5.153, 5.140, 5.127,
  5.165, 5.144, 5.136, 5.134, 5.199, 5.184, 5.204, 5.165, 5.159, 5.165,
  5.186, 5.119, 5.144, 5.137, 5.073, 5.081, 5.104, 5.106, 5.101, 4.908,
  4.977, 5.023, 4.978, 4.981, 5.023, 4.889, 4.914, 4.935, 4.933, 5.010,
  4.968, 5.190, 5.060, 5.098, 5.031, 5.052, 5.039, 4.989, 5.023, 5.077,
  5.159, 5.157, 5.228, 5.282, 5.260, 5.343, 5.257, 5.203, 5.199, 5.190,
  5.199, 5.207, 5.219, 5.111, 5.148, 5.098, 5.031, 5.190, 5.014, 5.086,
  5.144, 5.176, 5.136, 5.188, 5.178, 5.204, 5.176, 5.136, 5.044, 5.090,
  5.090, 5.297, 5.115, 5.199, 5.077, 5.106, 5.169, 5.278, 5.504, 5.529,
  5.595, 5.600, 5.571, 5.437, 5.529, 5.559, 5.353, 5.060, 4.893, 4.809,
  4.786, 4.730, 4.788, 4.786, 5.146, 4.744, 5.102, 4.972, 5.286, 5.355,
  5.178, 5.285, 5.102, 4.922, 4.989, 5.452, 5.450, 5.132, 5.358, 5.169,
  5.153,
  5.137, 5.207, 4.717, 4.847, 4.811, 5.144, 5.404, 5.379, 5.295, 5.521,
  5.659, 5.651, 5.437, 5.274, 5.035, 5.034, 4.992, 5.144, 5.379, 5.487,
  5.504, 5.600, 5.571, 5.102, 4.977, 4.537, 4.851, 5.094, 5.379, 5.590,
  5.575, 5.722, 5.754, 5.751, 5.762, 5.765, 5.774, 5.730, 5.690, 5.563,
  5.611, 5.416, 5.416, 5.525, 5.559, 5.550, 5.595, 5.578, 5.590, 5.538,
  5.353, 5.059, 5.052, 4.928, 5.307, 5.184, 5.471, 5.523, 5.544, 5.391,
  5.462, 5.523, 5.496, 5.060, 4.952, 5.366, 5.479, 5.682, 5.684, 5.673,
  5.651, 5.487, 5.554, 5.556, 5.477, 5.400, 5.475, 5.362, 5.479, 5.693,
  5.575, 5.479, 5.253, 5.400, 5.379, 5.171, 5.420, 5.408, 5.397, 5.402,
  5.471, 5.563, 5.584, 5.536, 5.194, 5.193, 5.391, 5.196, 5.278, 5.182,
  5.218, 5.213, 5.173, 5.328, 5.374, 5.377, 5.337, 5.224
];

// axis ticks
const xTickDays = [0, 13.833, 27.667, 41.5, 55.333, 69.167, 83];
const xTickLabels = [
  ['31 Jul ', '   2025'], ['14 Aug ', '   2025'], ['28 Aug ', '   2025'],
  ['11 Sep ', '   2025'], ['24 Sep ', '   2025'], ['08 Oct ', '   2025'],
  ['22 Oct ', '   2025']
];
const mlTicks = [4.4, 4.6, 4.8, 5, 5.2, 5.4, 5.6, 5.8, 6, 6.2];
const mgTicks = [6.5, 7, 7.5, 8, 8.5];
const ML_TO_MG = 1.429;

const axisColor = '#262626';
const mono = "'DejaVu Sans Mono', monospace";

const points = sampleDays.map((d, i) => ({ x: d, y: oxygenMlL[i] }));

// matlab style: tick marks point into the plot, ylabels on both sides read upward
const innerTicks = {
  id: 'innerTicks',
  afterDatasetsDraw(chart) {
    const { ctx, chartArea: a, scales } = chart;
    const len = 31;
    ctx.save();
    ctx.strokeStyle = axisColor;
    ctx.lineWidth = 1.5;
    ctx.beginPath();
    xTickDays.forEach(v => {
      const p = scales.x.getPixelForValue(v);
      ctx.moveTo(p, a.bottom);
      ctx.lineTo(p, a.bottom - len);
    });
    mlTicks.forEach(v => {
      const p = scales.y.getPixelForValue(v);
      ctx.moveTo(a.left, p);
      ctx.lineTo(a.left + len, p);
    });
    mgTicks.forEach(v => {
      const p = scales.y2.getPixelForValue(v);
      ctx.moveTo(a.right - len, p);
      ctx.lineTo(a.right, p);
    });
    ctx.stroke();

    ctx.fillStyle = axisColor;
    ctx.font = '39px ' + mono;
    ctx.textAlign = 'center';
    ctx.textBaseline = 'middle';
    const midY = (a.top + a.bottom) / 2;
    [['ml/l', a.left - 71], ['mg/l', a.right + 71]].forEach(([txt, x]) => {
      ctx.save();
      ctx.translate(x, midY);
      ctx.rotate(-Math.PI / 2);
      ctx.fillText(txt, 0, 0);
      ctx.restore();
    });
    ctx.restore();
  }
};

const tickFont = { family: mono, size: 20, lineHeight: 1.35 };
const plainAxis = {
  grid: { drawOnChartArea: false, drawTicks: false },
  border: { color: axisColor, width: 1.5 }
};

new Chart(document.getElementById('doChart'), {
  type: 'line',
  data: {
    datasets: [{
      data: points,
      borderColor: '#0072BD',
      borderWidth: 1.5,
      pointRadius: 0,
      tension: 0,
      fill: false
    }]
  },
  options: {
    responsive: false,
    animation: false,
    layout: { padding: { top: 124, left: 0, right: 0, bottom: 0 } },
    plugins: {
      legend: { display: false },
      tooltip: { enabled: false },
      title: {
        display: true,
        text: 'A0150 DISSOLVED OXYGEN at depth 49m',
        color: '#000',
        fullSize: false,
        font: { family: mono, size: 31, weight: 'bold' },
        padding: { top: 0, bottom: 5 }
      }
    },
    scales: {
      x: {
        ...plainAxis,
        type: 'linear',
        min: 0,
        max: 83,
        afterBuildTicks: s => { s.ticks = xTickDays.map(v => ({ value: v })); },
        afterFit: s => { s.height = 247; },
        ticks: {
          autoSkip: false,
          maxRotation: 0,
          padding: 6,
          color: axisColor,
          font: tickFont,
          callback: (v, i) => xTickLabels[i]
        }
      },
      y: {
        ...plainAxis,
        type: 'linear',
        position: 'left',
        min: 4.4,
        max: 6.2,
        afterBuildTicks: s => { s.ticks = mlTicks.map(v => ({ value: v })); },
        afterFit: s => { s.width = 520; },
        ticks: { padding: 8, color: axisColor, font: tickFont, callback: v => String(v) }
      },
      y2: {
        ...plainAxis,
        type: 'linear',
        position: 'right',
        min: 4.4 * ML_TO_MG,
        max: 6.2 * ML_TO_MG,
        afterBuildTicks: s => { s.ticks = mgTicks.map(v => ({ value: v })); },
        afterFit: s => { s.width = 380; },
        ticks: { padding: 5, color: axisColor, font: tickFont, callback: v => String(v) }
      }
    }
  },
  plugins: [innerTicks]
});
</script>
</body>
</html>
